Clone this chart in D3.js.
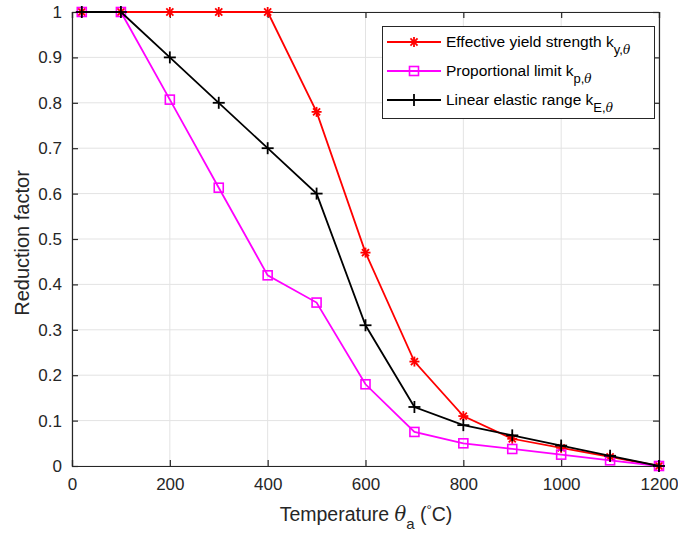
<!DOCTYPE html>
<html><head><meta charset="utf-8">
<script src="https://cdn.jsdelivr.net/npm/d3@7"></script>
<style>body{margin:0;background:#fff}svg{display:block}text{font-family:"Liberation Sans",Arial,sans-serif}</style>
</head><body>
<svg id="c" width="678" height="536"></svg>
<script>
const temps = [20,100,200,300,400,500,600,700,800,900,1000,1100,1200];
const ky = [1,1,1,1,1,0.78,0.47,0.23,0.11,0.06,0.04,0.02,0];
const kp = [1,1,0.807,0.613,0.42,0.36,0.18,0.075,0.05,0.0375,0.025,0.0125,0];
const kE = [1,1,0.9,0.8,0.7,0.6,0.31,0.13,0.09,0.0675,0.045,0.0225,0];
const xTicks = [0,200,400,600,800,1000,1200];
const yTicks = [0,0.1,0.2,0.3,0.4,0.5,0.6,0.7,0.8,0.9,1];
const seriesNames = ["Effective yield strength k", "Proportional limit k", "Linear elastic range k"];
const seriesSubs = ["y,θ","p,θ","E,θ"];
const seriesColors = ["#ff0000","#ff00ff","#000000"];
const seriesMarkers = ["star","square","plus"];

const svg = d3.select("#c");
const L=72,R=659,T=12,B=466;
const x = d3.scaleLinear().domain([0,1200]).range([L,R]);
const y = d3.scaleLinear().domain([0,1]).range([B,T]);
const axisCol="#262626";

// grid
const g = svg.append("g");
g.selectAll(".gx").data(xTicks).join("line").attr("x1",d=>x(d)).attr("x2",d=>x(d)).attr("y1",T).attr("y2",B).attr("stroke","#e3e3e3").attr("stroke-width",1);
g.selectAll(".gy").data(yTicks).join("line").attr("y1",d=>y(d)).attr("y2",d=>y(d)).attr("x1",L).attr("x2",R).attr("stroke","#e3e3e3").attr("stroke-width",1);

// axes
const xa = d3.axisBottom(x).tickValues(xTicks).tickSize(-6).tickPadding(12).tickFormat(d3.format("d"));
const ya = d3.axisLeft(y).tickValues(yTicks).tickSize(-6).tickPadding(10).tickFormat(d=>d===0||d===1?String(d):d3.format(".1f")(d));
const xg = svg.append("g").attr("transform",`translate(0,${B})`).call(xa);
const yg = svg.append("g").attr("transform",`translate(${L},0)`).call(ya);
const xt = svg.append("g").attr("transform",`translate(0,${T})`).call(d3.axisTop(x).tickValues(xTicks).tickSize(-6).tickFormat(""));
const yr = svg.append("g").attr("transform",`translate(${R},0)`).call(d3.axisRight(y).tickValues(yTicks).tickSize(-6).tickFormat(""));
[xg,yg,xt,yr].forEach(a=>{
  a.select(".domain").attr("stroke",axisCol).attr("stroke-width",1.2);
  a.selectAll(".tick line").attr("stroke",axisCol).attr("stroke-width",1.2);
  a.selectAll(".tick text").attr("fill",axisCol).style("font-size","17px").style("font-family","'Liberation Sans',Arial,sans-serif");
});

// markers
function drawMarker(sel, type, color){
  if(type==="star"){
    const r=5;
    for(let a=0;a<4;a++){
      const ang=a*Math.PI/4;
      sel.append("line").attr("x1",-r*Math.cos(ang)).attr("y1",-r*Math.sin(ang)).attr("x2",r*Math.cos(ang)).attr("y2",r*Math.sin(ang)).attr("stroke",color).attr("stroke-width",1.8);
    }
  } else if(type==="square"){
    sel.append("rect").attr("x",-4.5).attr("y",-4.5).attr("width",9).attr("height",9).attr("fill","none").attr("stroke",color).attr("stroke-width",1.6);
  } else {
    const r=6;
    sel.append("line").attr("x1",-r).attr("x2",r).attr("y1",0).attr("y2",0).attr("stroke",color).attr("stroke-width",1.8);
    sel.append("line").attr("y1",-r).attr("y2",r).attr("x1",0).attr("x2",0).attr("stroke",color).attr("stroke-width",1.8);
  }
}

const series=[ky,kp,kE];
const line = d3.line().x(d=>x(d[0])).y(d=>y(d[1]));
series.forEach((vals,i)=>{
  const pts = temps.map((t,j)=>[t,vals[j]]);
  svg.append("path").datum(pts).attr("d",line).attr("fill","none").attr("stroke",seriesColors[i]).attr("stroke-width",1.8);
  pts.forEach(p=>{
    const m=svg.append("g").attr("transform",`translate(${x(p[0])},${y(p[1])})`);
    drawMarker(m,seriesMarkers[i],seriesColors[i]);
  });
});

// legend
const lg = svg.append("g");
lg.append("rect").attr("x",382.5).attr("y",26.5).attr("width",272).attr("height",92).attr("fill","#fff").attr("stroke",axisCol).attr("stroke-width",1);
const rowsY=[42,71,100];
series.forEach((v,i)=>{
  const yy=rowsY[i];
  lg.append("line").attr("x1",387).attr("x2",441).attr("y1",yy).attr("y2",yy).attr("stroke",seriesColors[i]).attr("stroke-width",1.8);
  const m=lg.append("g").attr("transform",`translate(414,${yy})`);
  drawMarker(m,seriesMarkers[i],seriesColors[i]);
  const t=lg.append("text").attr("x",446).attr("y",yy+5).attr("fill","#000").style("font-size","15.5px").text(seriesNames[i]);
  const sub=seriesSubs[i].split(",");
  t.append("tspan").attr("dy",7).style("font-size","13px").text(sub[0]+",");
  t.append("tspan").style("font-size","12px").style("font-style","italic").style("font-family","'DejaVu Serif',serif").text(sub[1]);
});

// axis labels
const xl = svg.append("text").attr("x",366).attr("y",521).attr("text-anchor","middle").attr("fill",axisCol).style("font-size","19.5px");
xl.append("tspan").text("Temperature ");
xl.append("tspan").style("font-style","italic").style("font-family","'DejaVu Serif',serif").text("θ");
xl.append("tspan").attr("dy",8).style("font-size","15px").text("a");
xl.append("tspan").attr("dy",-8).text(" (");
xl.append("tspan").attr("dy",-7).style("font-size","13px").text("°");
xl.append("tspan").attr("dy",7).text("C)");

svg.append("text").attr("transform","translate(29,243) rotate(-90)").attr("text-anchor","middle").attr("fill",axisCol).style("font-size","20px").text("Reduction factor");
</script>
</body></html>
